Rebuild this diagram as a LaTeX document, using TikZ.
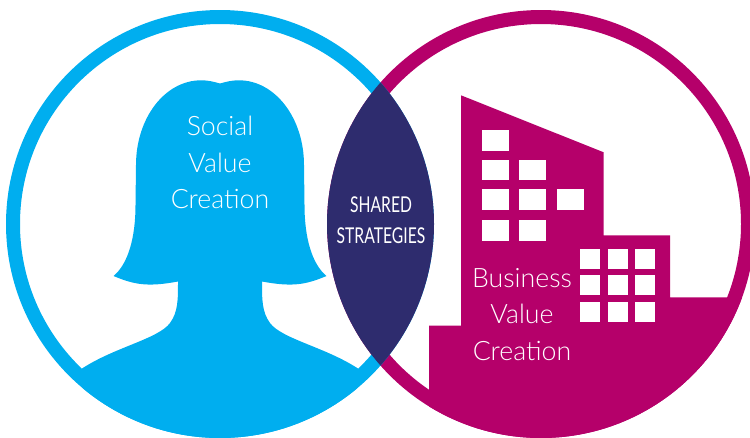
\documentclass[tikz,border=0pt]{standalone}
\usepackage{fontspec}
\newfontfamily\circlefont{Lato Light}
\newfontfamily\lensfont[FakeStretch=0.72]{Lato}
\definecolor{socialblue}{HTML}{00AEEF}
\definecolor{businessred}{HTML}{B5006A}
\definecolor{lensblue}{HTML}{2E2C6E}
\tikzset{
  ring/.style={line width=0.28cm},
  bigwin/.style={fill=white, inner sep=0, minimum width=0.54cm, minimum height=0.41cm},
  smallwin/.style={fill=white, inner sep=0, minimum width=0.395cm, minimum height=0.395cm},
  circletext/.style={text=white, align=center, font=\circlefont\fontsize{15.2}{20.8}\selectfont},
  lenstext/.style={text=white, align=center, font=\lensfont\fontsize{12.4}{17.6}\selectfont}
}
\begin{document}
\begin{tikzpicture}[x=0.02cm, y=-0.02cm]
\path[use as bounding box, clip] (0,0) rectangle (750,437);
\coordinate (socialc) at (220,224);
\coordinate (businessc) at (541,224);
% business side
\draw[ring, businessred] (businessc) circle [radius=207];
\begin{scope}
\clip (businessc) circle [radius=214];
\fill[businessred] (461,95.3) -- (603.7,152.3) -- (603.7,235.3) -- (670,235.3) -- (670,297.3)
  -- (800,297.3) -- (800,450) -- (429,450) -- (429,325.7) -- (461,325.7) -- cycle;
\end{scope}
\node[bigwin] (bw0) at (495.2,140.3){};
\node[bigwin] (bw1) at (495.2,170){};
\node[bigwin] (bw2) at (532.5,170){};
\node[bigwin] (bw3) at (495.2,199.7){};
\node[bigwin] (bw4) at (532.5,199.7){};
\node[bigwin] (bw5) at (570.2,199.7){};
\node[bigwin] (bw6) at (495.2,230.7){};
\node[bigwin] (bw7) at (532.5,230.7){};
\node[smallwin] (sw0) at (590.2,258.8){};
\node[smallwin] (sw1) at (617.8,258.8){};
\node[smallwin] (sw2) at (645.3,258.8){};
\node[smallwin] (sw3) at (590.2,285.2){};
\node[smallwin] (sw4) at (617.8,285.2){};
\node[smallwin] (sw5) at (645.3,285.2){};
\node[smallwin] (sw6) at (590.2,312.3){};
\node[smallwin] (sw7) at (617.8,312.3){};
\node[smallwin] (sw8) at (645.3,312.3){};
% social side
\draw[ring, socialblue] (socialc) circle [radius=207];
\begin{scope}
\clip (socialc) circle [radius=214];
\fill[socialblue] (220,83.5) .. controls (213,81.5) and (208,80.3) .. (201,80.3)
  .. controls (165,80.3) and (136,118) .. (136,165) -- (135.5,205)
  .. controls (135.5,238) and (128,264) .. (113.5,276)
  .. controls (135,285) and (148,287) .. (178,281.5)
  .. controls (178,300) and (178,312) .. (170,323)
  .. controls (158,339) and (115,347) .. (82,368.5) -- (82,450) -- (358,450) -- (358,368.5)
  .. controls (325,347) and (282,339) .. (270,323)
  .. controls (262,312) and (262,300) .. (262,281.5)
  .. controls (292,287) and (305,285) .. (326.5,276)
  .. controls (312,264) and (304.5,238) .. (304.5,205) -- (304,165)
  .. controls (304,118) and (275,80.3) .. (239,80.3)
  .. controls (232,80.3) and (227,81.5) .. (220,83.5) -- cycle;
\end{scope}
% shared part
\begin{scope}
\clip (socialc) circle [radius=214];
\fill[lensblue] (businessc) circle [radius=214];
\end{scope}
\node[circletext] (socialtext) at (220,162.5) {Social\\Value\\Creation};
\node[circletext] (businesstext) at (522,314.5) {Business\\Value\\Creation};
\node[lenstext] (sharedtext) at (381,220.5) {SHARED\\STRATEGIES};
\end{tikzpicture}
\end{document}
